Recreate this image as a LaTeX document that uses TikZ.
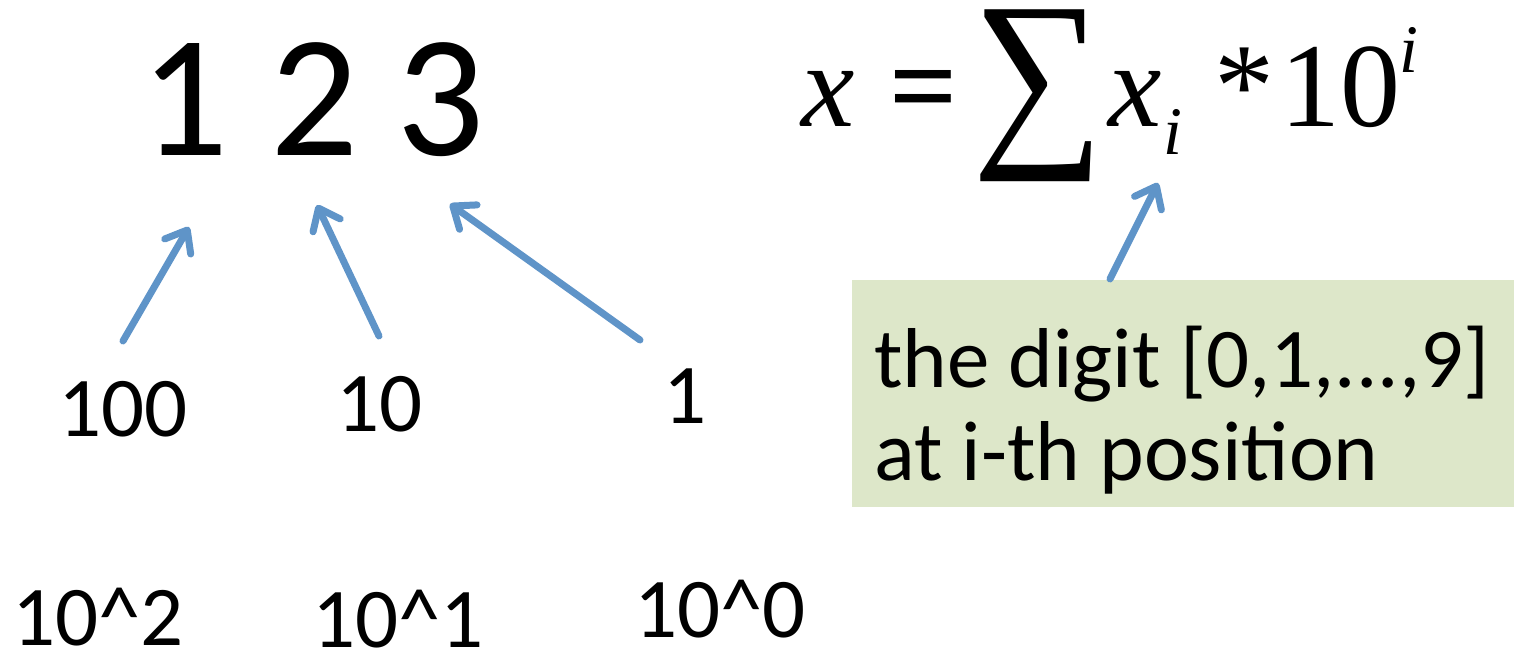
\documentclass[tikz,border=0pt]{standalone}
\usepackage{fontspec}
\usepackage{graphicx}
\setmainfont{Carlito}
\usetikzlibrary{arrows.meta}
\definecolor{arrblue}{RGB}{95,148,200}
\definecolor{boxgreen}{RGB}{221,231,201}
\begin{document}
\begin{tikzpicture}[x=1pt,y=-1pt,
  bigdigit/.style={font=\fontsize{174}{180}\selectfont, inner sep=0pt, anchor=base west},
  lbl/.style={font=\fontsize{85}{90}\selectfont, inner sep=0pt, anchor=base west},
  boxtxt/.style={font=\fontsize{85}{90}\selectfont, inner sep=0pt, anchor=base west},
  fm/.style={font={\fontspec{Liberation Serif}\fontsize{120}{120}\selectfont}, inner sep=0pt, anchor=base west},
  fmi/.style={font={\fontspec{Liberation Serif Italic}\fontsize{120}{120}\selectfont}, inner sep=0pt, anchor=base west},
  fmsmall/.style={font={\fontspec{Liberation Serif Italic}\fontsize{68}{68}\selectfont}, inner sep=0pt, anchor=base west},
  arr/.style={draw=arrblue, line width=7pt, line cap=round, line join=round,
    -{Straight Barb[length=19pt,width=30pt,line cap=round,line join=round]}},
  greenbox/.style={fill=boxgreen, draw=none, inner sep=0pt, anchor=north west}
]
\useasboundingbox (0,0) rectangle (1514,653);

% big digits
\node[bigdigit] (d1) at (140,155) {1};
\node[bigdigit] (d2) at (270,155) {2};
\node[bigdigit] (d3) at (396,155) {3};

% place values
\node[lbl] (l100) at (58,436) {100};
\node[lbl] (l10) at (336,431) {10};
\node[lbl] (l1) at (663,423) {1};

\node[lbl] (p2) at (12,645) {10\textasciicircum 2};
\node[lbl] (p1) at (312,647) {10\textasciicircum 1};
\node[lbl] (p0) at (634,637) {10\textasciicircum 0};

% formula
\node[fmi] (fx) at (801,126) {x};
\node[fm, font={\fontspec{Liberation Serif}\bfseries\fontsize{120}{120}\selectfont}] (feq) at (889,126) {=};
\node[inner sep=0pt, anchor=north west, font={\fontspec{Liberation Serif}}] (fsum) at (972,10) {\scalebox{0.70}[0.75]{\resizebox{!}{173pt}{∑}}};
\node[fmi] (fxi) at (1108,126) {x};
\node[fmsmall] (fsub) at (1163,154) {i};
\node[fm] (fstar) at (1214,126) {*};
\node[fm] (f10) at (1280,126) {10};
\node[fmsmall] (fsup) at (1399,72) {i};

% green box
\node[greenbox, minimum width=662pt, minimum height=227pt] (box) at (852,280) {};
\node[boxtxt] (bt1) at (874,387) {the digit [0,1,...,9]};
\node[boxtxt] (bt2) at (874,480) {at i-th position};

% arrow end points
\coordinate (a1s) at (123,341);
\coordinate (a1e) at (189,227);
\coordinate (a2s) at (379,336);
\coordinate (a2e) at (317,205);
\coordinate (a3s) at (640,340);
\coordinate (a3e) at (450,204);
\coordinate (a4s) at (1110,279);
\coordinate (a4e) at (1158,183);

\draw[arr] (a1s) -- (a1e);
\draw[arr] (a2s) -- (a2e);
\draw[arr] (a3s) -- (a3e);
\draw[arr] (a4s) -- (a4e);
\end{tikzpicture}
\end{document}
